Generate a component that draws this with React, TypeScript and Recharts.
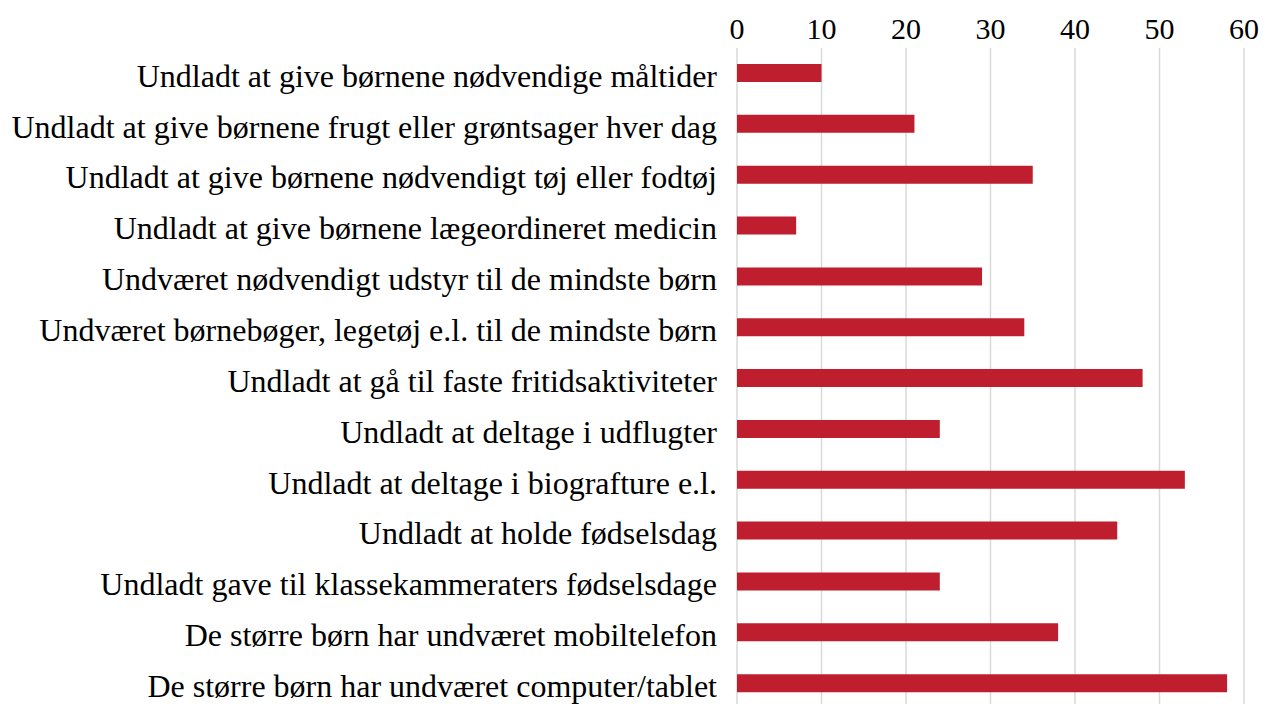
import React from "react";
import { BarChart, Bar, XAxis, YAxis, CartesianGrid } from "recharts";

const categories: string[] = [
  "Undladt at give børnene nødvendige måltider",
  "Undladt at give børnene frugt eller grøntsager hver dag",
  "Undladt at give børnene nødvendigt tøj eller fodtøj",
  "Undladt at give børnene lægeordineret medicin",
  "Undværet nødvendigt udstyr til de mindste børn",
  "Undværet børnebøger, legetøj e.l. til de mindste børn",
  "Undladt at gå til faste fritidsaktiviteter",
  "Undladt at deltage i udflugter",
  "Undladt at deltage i biografture e.l.",
  "Undladt at holde fødselsdag",
  "Undladt gave til klassekammeraters fødselsdage",
  "De større børn har undværet mobiltelefon",
  "De større børn har undværet computer/tablet",
];

const values: number[] = [10, 21, 35, 7, 29, 34, 48, 24, 53, 45, 24, 38, 58];

const xTicks: number[] = [0, 10, 20, 30, 40, 50, 60];

const data = categories.map((name, i) => ({ name, value: values[i] }));

const FONT = "Liberation Serif";

export default function App() {
  return (
    <div
      style={{
        position: "absolute",
        left: 0,
        top: 0,
        width: 1267,
        height: 704,
        overflow: "hidden",
        background: "#fff",
        fontFamily: FONT,
      }}
    >
      <BarChart
        width={1267}
        height={709}
        data={data}
        layout="vertical"
        margin={{ top: 0, right: 23, bottom: 0, left: 0 }}
        style={{ fontFamily: FONT }}
      >
        <CartesianGrid horizontal={false} vertical={true} stroke="#d9d9d9" strokeWidth={1.5} />
        <XAxis
          type="number"
          orientation="top"
          domain={[0, 60]}
          ticks={xTicks}
          height={48}
          axisLine={false}
          tickLine={false}
          tickSize={0}
          tickMargin={9}
          tick={{ fontFamily: FONT, fontSize: 30, fill: "#000" }}
          interval={0}
        />
        <YAxis
          type="category"
          dataKey="name"
          width={737}
          axisLine={false}
          tickLine={false}
          tickSize={0}
          tickMargin={20}
          interval={0}
          tick={{ fontFamily: FONT, fontSize: 32, fill: "#000", dy: 2 }}
        />
        <Bar dataKey="value" fill="#BE1E2D" barSize={18} isAnimationActive={false} />
      </BarChart>
    </div>
  );
}
